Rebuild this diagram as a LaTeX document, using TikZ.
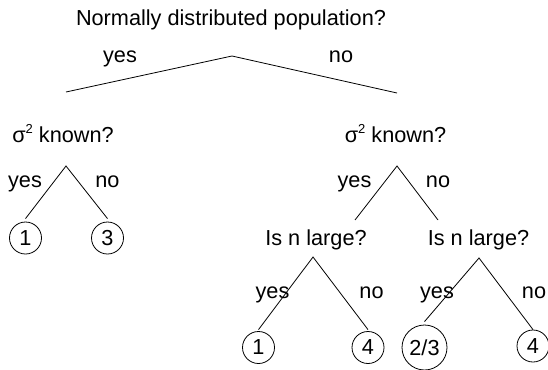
\documentclass[tikz,border=0pt]{standalone}
\usepackage{fontspec}
\setmainfont{Liberation Sans}
\begin{document}
\begin{tikzpicture}[x=1pt,y=-1pt,
  txt/.style={anchor=base,inner sep=0pt,font=\fontsize{21.7}{26}\selectfont},
  leaf/.style={circle,draw,line width=0.8pt,inner sep=0pt,minimum size=32pt,font=\fontsize{21.7}{26}\selectfont},
  edge/.style={line width=0.8pt}]
\useasboundingbox (0,0) rectangle (548,369);
% questions
\node[txt] (q0) at (231,26) {Normally distributed population?};
\node[txt] (q1) at (63,142) {σ\raisebox{9pt}{\fontsize{13}{13}\selectfont 2} known?};
\node[txt] (q2) at (395.5,142) {σ\raisebox{9pt}{\fontsize{13}{13}\selectfont 2} known?};
\node[txt] (q3) at (316,245.5) {Is n large?};
\node[txt] (q4) at (478.5,245.5) {Is n large?};
% leaves
\node[leaf] (l1) at (25.5,238) {1};
\node[leaf] (l2) at (107.5,238) {3};
\node[leaf] (l3) at (258.5,347.5) {1};
\node[leaf] (l4) at (368,347.5) {4};
\node[leaf,minimum size=45pt] (l5) at (424.5,347.5) {2/3};
\node[leaf] (l6) at (533,346) {4};
% branch points
\coordinate (a0) at (232,56);
\coordinate (e0l) at (66,92);
\coordinate (e0r) at (397,93);
\coordinate (a1) at (66,166);
\coordinate (a2) at (397,166);
\coordinate (e2l) at (355,220);
\coordinate (e2r) at (438,220);
\coordinate (a3) at (313,257);
\coordinate (a4) at (479,258);
% connectors
\draw[edge] (e0l) -- (a0) -- (e0r);
\draw[edge] ([yshift=3pt]l1.north) -- (a1) -- ([yshift=3pt]l2.north);
\draw[edge] (e2l) -- (a2) -- (e2r);
\draw[edge] ([yshift=1.5pt]l3.north) -- (a3) -- ([yshift=1.5pt]l4.north);
\draw[edge] ([yshift=3pt]l5.north) -- (a4) -- ([yshift=0pt]l6.north);
% labels
\node[txt] (y0) at (120,62.5) {yes};
\node[txt] (n0) at (341,62.5) {no};
\node[txt] (y1) at (25,187.6) {yes};
\node[txt] (n1) at (107.5,187.6) {no};
\node[txt] (y2) at (354.5,187.6) {yes};
\node[txt] (n2) at (438,187.6) {no};
\node[txt] (y3) at (272.5,298.5) {yes};
\node[txt] (n3) at (371.5,298.5) {no};
\node[txt] (y4) at (437,298.5) {yes};
\node[txt] (n4) at (534,298.5) {no};
\end{tikzpicture}
\end{document}
